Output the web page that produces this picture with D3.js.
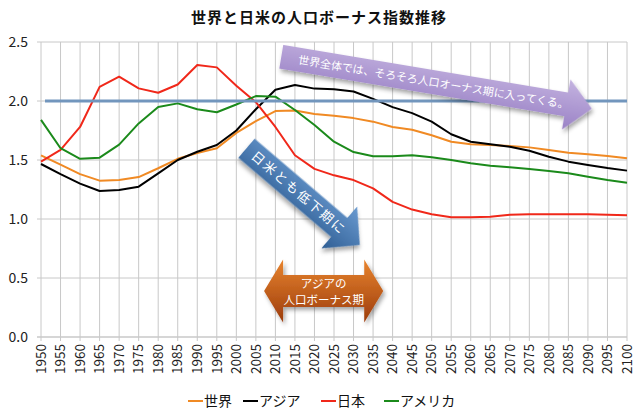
<!DOCTYPE html>
<html>
<head>
<meta charset="utf-8">
<script src="https://cdn.jsdelivr.net/npm/d3@7"></script>
<style>
  body { margin: 0; background: #fff; }
  svg { font-family: "Noto Sans CJK JP", "Noto Sans", sans-serif; }
</style>
</head>
<body>
<svg id="chart" width="640" height="418"></svg>
<script>
// 5-year steps, 1950-2100
var YEARS = ["1950","1955","1960","1965","1970","1975","1980","1985","1990","1995",
  "2000","2005","2010","2015","2020","2025","2030","2035","2040","2045",
  "2050","2055","2060","2065","2070","2075","2080","2085","2090","2095","2100"]

var WORLD = [1.54,1.46,1.38,1.325,1.33,1.355,1.43,1.51,1.56,1.60,
  1.73,1.83,1.915,1.92,1.89,1.875,1.855,1.825,1.78,1.757,
  1.71,1.655,1.633,1.627,1.618,1.607,1.585,1.562,1.548,1.534,1.514]

var ASIA = [1.466,1.38,1.30,1.237,1.245,1.274,1.387,1.50,1.57,1.627,
  1.75,1.93,2.095,2.135,2.105,2.10,2.08,2.018,1.948,1.897,
  1.825,1.718,1.655,1.633,1.613,1.579,1.528,1.486,1.458,1.432,1.41]

var JAPAN = [1.486,1.585,1.78,2.12,2.206,2.107,2.07,2.14,2.305,2.285,
  2.13,1.99,1.78,1.54,1.425,1.37,1.33,1.26,1.145,1.08,
  1.04,1.014,1.014,1.02,1.035,1.04,1.04,1.04,1.04,1.035,1.031]

var AMERICA = [1.84,1.60,1.51,1.52,1.63,1.81,1.95,1.98,1.93,1.905,
  1.97,2.042,2.037,1.924,1.797,1.655,1.567,1.531,1.531,1.54,
  1.523,1.50,1.472,1.452,1.438,1.424,1.407,1.387,1.358,1.33,1.308]

var Y_TICKS = [0, 0.5, 1.0, 1.5, 2.0, 2.5]
var REPLACEMENT_LEVEL = 2.0

var SERIES = [
  { name: "世界", values: WORLD, color: "#f08a24" },
  { name: "アジア", values: ASIA, color: "#000000" },
  { name: "日本", values: JAPAN, color: "#f0281a" },
  { name: "アメリカ", values: AMERICA, color: "#1b8a1b" }
]

var svg = d3.select("#chart")

var x = d3.scalePoint().domain(YEARS).range([41, 627])
var y = d3.scaleLinear().domain([0, 2.5]).range([337, 42])

var GRID = "#c8c8c8"

// title
svg.append("text")
  .attr("x", 319)
  .attr("y", 23)
  .attr("text-anchor", "middle")
  .attr("font-size", 15)
  .attr("font-weight", "bold")
  .attr("letter-spacing", 1)
  .attr("fill", "#111")
  .text("世界と日米の人口ボーナス指数推移")

// vertical grid
svg.append("g").selectAll("line")
  .data(YEARS)
  .enter().append("line")
  .attr("x1", function(d) { return x(d) })
  .attr("x2", function(d) { return x(d) })
  .attr("y1", y(2.5))
  .attr("y2", y(0) + 4)
  .attr("stroke", GRID)
  .attr("stroke-width", 1)

// horizontal grid
svg.append("g").selectAll("line")
  .data(Y_TICKS)
  .enter().append("line")
  .attr("x1", x(YEARS[0]) - 4)
  .attr("x2", x(YEARS[YEARS.length - 1]))
  .attr("y1", function(d) { return y(d) })
  .attr("y2", function(d) { return y(d) })
  .attr("stroke", GRID)
  .attr("stroke-width", function(d) { return d == 0 ? 1.5 : 1 })

// y labels
svg.append("g").selectAll("text")
  .data(Y_TICKS)
  .enter().append("text")
  .attr("x", 28)
  .attr("y", function(d) { return y(d) })
  .attr("dy", "0.35em")
  .attr("text-anchor", "end")
  .attr("font-size", 14)
  .attr("fill", "#222")
  .text(d3.format(".1f"))

// x labels, rotated
svg.append("g").selectAll("text")
  .data(YEARS)
  .enter().append("text")
  .attr("transform", function(d) {
    return "translate(" + x(d) + "," + (y(0) + 7) + ") rotate(-90)"
  })
  .attr("dy", "0.35em")
  .attr("text-anchor", "end")
  .attr("font-size", 13.5)
  .attr("fill", "#222")
  .text(function(d) { return d })

// series lines
var line = d3.line()
  .x(function(d, i) { return x(YEARS[i]) })
  .y(function(d) { return y(d) })

svg.append("g").selectAll("path")
  .data(SERIES)
  .enter().append("path")
  .attr("d", function(s) { return line(s.values) })
  .attr("fill", "none")
  .attr("stroke", function(s) { return s.color })
  .attr("stroke-width", 2)
  .attr("stroke-linejoin", "round")

// replacement level line
svg.append("line")
  .attr("x1", x(YEARS[0]) + 4)
  .attr("x2", x(YEARS[YEARS.length - 1]))
  .attr("y1", y(REPLACEMENT_LEVEL))
  .attr("y2", y(REPLACEMENT_LEVEL))
  .attr("stroke", "#7296bd")
  .attr("stroke-width", 3)

// ---- annotations ----
var defs = svg.append("defs")

var shadow = defs.append("filter").attr("id", "shadow")
  .attr("x", "-20%").attr("y", "-20%").attr("width", "140%").attr("height", "140%")
shadow.append("feDropShadow")
  .attr("dx", 2).attr("dy", 3).attr("stdDeviation", 2)
  .attr("flood-color", "#000").attr("flood-opacity", 0.35)

function gradient(id, top, bottom) {
  var g = defs.append("linearGradient").attr("id", id)
    .attr("x1", 0).attr("y1", 0).attr("x2", 0).attr("y2", 1)
  g.append("stop").attr("offset", "0%").attr("stop-color", top)
  g.append("stop").attr("offset", "100%").attr("stop-color", bottom)
}
gradient("gPurple", "#c4b3e0", "#9a82c6")
gradient("gBlue", "#6a9ad0", "#2f5e94")
gradient("gOrange", "#e8842e", "#9c3c0c")

// block arrow pointing right in local coords, back edge centred on (0,0)
function arrowPath(len, bw, hw, hl) {
  var b = len - hl
  return "M0," + (-bw) + "L" + b + "," + (-bw) + "L" + b + "," + (-hw) +
    "L" + len + ",0L" + b + "," + hw + "L" + b + "," + bw + "L0," + bw + "Z"
}

function doubleArrowPath(len, bw, hw, hl) {
  return "M0,0L" + hl + "," + (-hw) + "L" + hl + "," + (-bw) +
    "L" + (len - hl) + "," + (-bw) + "L" + (len - hl) + "," + (-hw) +
    "L" + len + ",0L" + (len - hl) + "," + hw + "L" + (len - hl) + "," + bw +
    "L" + hl + "," + bw + "L" + hl + "," + hw + "Z"
}

// arrow placed from (year, value) to (year, value)
function placeArrow(from, to) {
  var x0 = x(YEARS[0]) + (from[0] - 1950) / 150 * (x(YEARS[30]) - x(YEARS[0]))
  var x1 = x(YEARS[0]) + (to[0] - 1950) / 150 * (x(YEARS[30]) - x(YEARS[0]))
  var y0 = y(from[1]), y1 = y(to[1])
  var dx = x1 - x0, dy = y1 - y0
  return {
    x: x0, y: y0,
    len: Math.sqrt(dx * dx + dy * dy),
    angle: Math.atan2(dy, dx) * 180 / Math.PI
  }
}

function drawArrow(a, fill, bw, hw, hl, label, fontSize, textX, spacing) {
  var g = svg.append("g")
    .attr("transform", "translate(" + a.x + "," + a.y + ") rotate(" + a.angle + ")")
  g.append("path")
    .attr("d", arrowPath(a.len, bw, hw, hl))
    .attr("fill", "url(#" + fill + ")")
    .attr("filter", "url(#shadow)")
  g.append("text")
    .attr("x", textX)
    .attr("y", 0)
    .attr("dy", "0.36em")
    .attr("text-anchor", "middle")
    .attr("font-size", fontSize)
    .attr("letter-spacing", spacing)
    .attr("fill", "#fff")
    .text(label)
}

var purple = placeArrow([2011.5, 2.375], [2091, 1.935])
drawArrow(purple, "gPurple", 12, 25.5, 26,
  "世界全体では、そろそろ人口オーナス期に入ってくる。", 11, purple.len / 2 - 3, 0)

var blue = placeArrow([2002.6, 1.60], [2031.6, 0.78])
drawArrow(blue, "gBlue", 12.5, 27.5, 27, "日米とも低下期に", 13, 69, 2)

// asia bonus period, double arrow
var orange = placeArrow([2007.1, 0.39], [2037.6, 0.39])
var og = svg.append("g")
  .attr("transform", "translate(" + orange.x + "," + orange.y + ")")
og.append("path")
  .attr("d", doubleArrowPath(orange.len, 16, 31.5, 19))
  .attr("fill", "url(#gOrange)")
  .attr("filter", "url(#shadow)")
og.selectAll("text")
  .data(["アジアの", "人口ボーナス期"])
  .enter().append("text")
  .attr("x", orange.len / 2)
  .attr("y", function(d, i) { return i == 0 ? -7.5 : 8.5 })
  .attr("dy", "0.36em")
  .attr("text-anchor", "middle")
  .attr("font-size", 11.5)
  .attr("fill", "#fff")
  .text(function(d) { return d })

// legend
var LEGEND_X = [188, 243, 321, 384]
var legend = svg.append("g").selectAll("g")
  .data(SERIES)
  .enter().append("g")
  .attr("transform", function(s, i) { return "translate(" + LEGEND_X[i] + ",401)" })
legend.append("line")
  .attr("x1", 0).attr("x2", 15)
  .attr("stroke", function(s) { return s.color })
  .attr("stroke-width", 2)
legend.append("text")
  .attr("x", 16)
  .attr("dy", "0.36em")
  .attr("font-size", 14)
  .attr("fill", "#111")
  .text(function(s) { return s.name })
</script>
</body>
</html>
